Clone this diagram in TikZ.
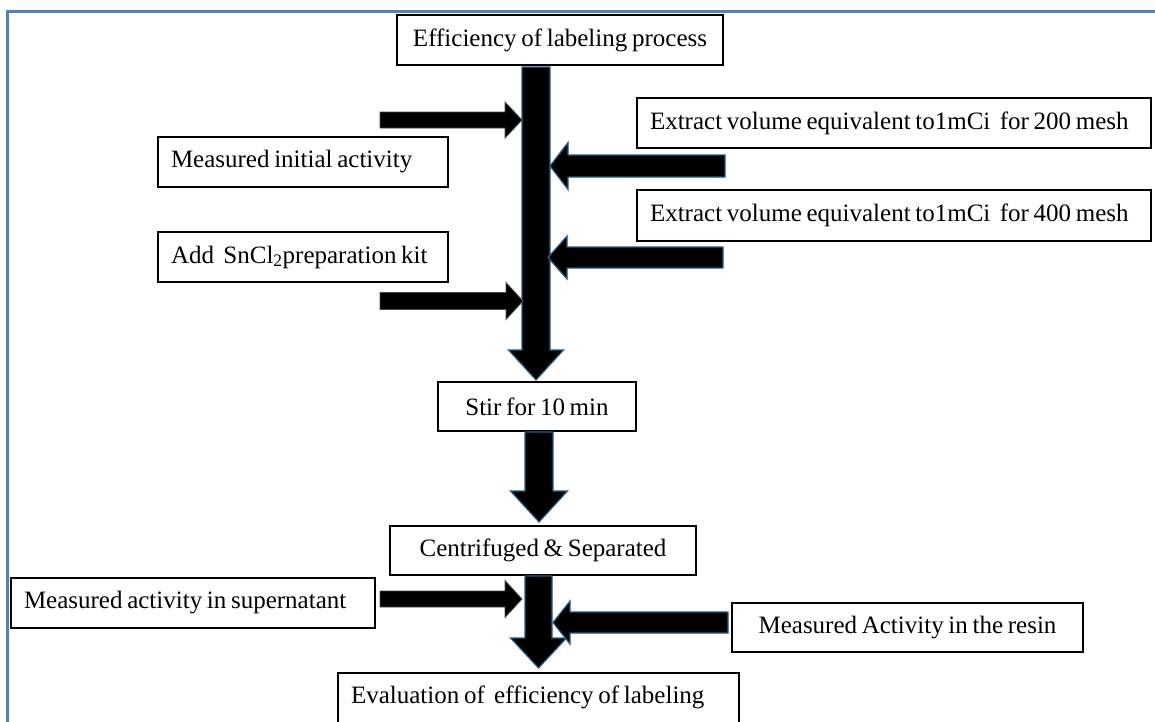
\documentclass[tikz,border=0pt]{standalone}
\usepackage{fontspec}
\setmainfont{Liberation Serif}[WordSpace={0.75,0.5,0.5}]
\usetikzlibrary{calc}
% #1 style, #2 start, #3 tip, #4 half shaft, #5 half head, #6 head length
\newcommand{\fatarrow}[6]{%
  \path[#1] ($(#2)!#4!90:(#3)$)
    -- ($($(#3)!#6!(#2)$)!#4!-90:(#2)$)
    -- ($($(#3)!#6!(#2)$)!#5!-90:(#2)$)
    -- (#3)
    -- ($($(#3)!#6!(#2)$)!#5!90:(#2)$)
    -- ($($(#3)!#6!(#2)$)!#4!90:(#2)$)
    -- ($(#2)!#4!-90:(#3)$) -- cycle;}
\newcommand{\lefttext}[2]{\makebox[#1][l]{#2}}
\definecolor{framebl}{RGB}{79,129,189}
\definecolor{edgebl}{RGB}{38,92,135}
\tikzset{
  box/.style={draw=black, line width=1.3pt, fill=white, inner sep=0pt,
    font=\fontsize{25}{30}\selectfont, anchor=center},
  cbox/.style={box, align=center},
  lbox/.style={box, inner xsep=13pt},
  bluearrow/.style={fill=black, draw=edgebl, line width=1.2pt, line join=miter},
  darkarrow/.style={fill=black, draw=black!70, line width=0.8pt, line join=miter},
  frameline/.style={draw=framebl, line width=2.6pt}
}
\begin{document}
\begin{tikzpicture}[x=1pt, y=-1pt]
\useasboundingbox (0,0) rectangle (1155,721);
\draw[frameline] (7.5,730) -- (7.5,11.5) -- (1160,11.5);

% boxes
\node[cbox, minimum width=326pt, minimum height=50pt] (top) at (560,40) {Efficiency of labeling process};
\node[lbox, minimum height=50pt] (init) at (303,162) {\lefttext{264pt}{Measured initial activity}};
\node[lbox, minimum height=50pt] (e200) at (894,123) {\lefttext{488pt}{Extract volume equivalent to1mCi\ \ for 200 mesh}};
\node[lbox, minimum height=51pt] (e400) at (894,215.5) {\lefttext{488pt}{Extract volume equivalent to1mCi\ \ for 400 mesh}};
\node[lbox, minimum height=50pt] (sncl) at (303,257) {\lefttext{264pt}{Add\ \ SnCl\textsubscript{2}preparation kit}};
\node[cbox, minimum width=198pt, minimum height=49pt] (stir) at (537,406.5) {Stir for 10 min};
\node[cbox, minimum width=306pt, minimum height=49pt] (cent) at (543,550.5) {Centrifuged \& Separated};
\node[lbox, minimum height=50pt] (sup) at (193,603) {\lefttext{338pt}{Measured activity in supernatant}};
\node[cbox, minimum width=351pt, minimum height=49pt] (resin) at (907.5,627.5) {Measured Activity in the resin};
\node[lbox, minimum height=60pt, text depth=16pt] (eval) at (538.5,703) {\lefttext{375pt}{Evaluation of\ \ efficiency of labeling}};

% arrow end points
\coordinate (m1s) at (536,67);
\coordinate (m1t) at (536,380);
\coordinate (m2s) at (539,432);
\coordinate (m2t) at (539,522);
\coordinate (m3s) at (538.5,576);
\coordinate (m3t) at (538.5,668);
\coordinate (l1s) at (380,120);
\coordinate (l1t) at (522,120);
\coordinate (l2s) at (380,301);
\coordinate (l2t) at (523,301);
\coordinate (l3s) at (380,599);
\coordinate (l3t) at (522,599);
\coordinate (r1s) at (725,166);
\coordinate (r1t) at (550,166);
\coordinate (r2s) at (723,257.5);
\coordinate (r2t) at (548,257.5);
\coordinate (r3s) at (728,622.5);
\coordinate (r3t) at (553,622.5);

% fat arrows
\fatarrow{bluearrow}{m1s}{m1t}{14pt}{27.5pt}{30pt}
\fatarrow{darkarrow}{l1s}{l1t}{8pt}{18pt}{17pt}
\fatarrow{darkarrow}{l2s}{l2t}{8.5pt}{18.5pt}{17pt}
\fatarrow{bluearrow}{r1s}{r1t}{11pt}{23.5pt}{18pt}
\fatarrow{bluearrow}{r2s}{r2t}{10.5pt}{21.5pt}{19pt}
\fatarrow{bluearrow}{m2s}{m2t}{14pt}{28.5pt}{31pt}
\fatarrow{bluearrow}{m3s}{m3t}{13.5pt}{28pt}{30pt}
\fatarrow{darkarrow}{l3s}{l3t}{8pt}{18.5pt}{17pt}
\fatarrow{bluearrow}{r3s}{r3t}{10.5pt}{21.5pt}{17pt}
\end{tikzpicture}
\end{document}
